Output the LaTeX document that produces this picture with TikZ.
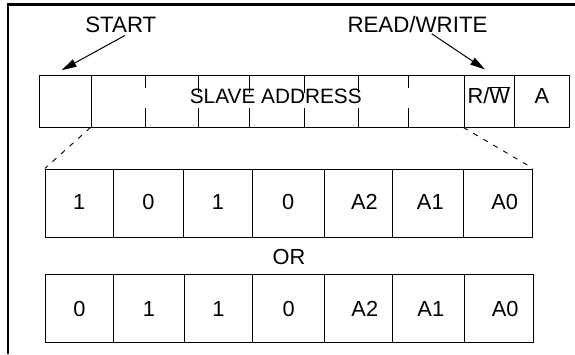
\documentclass[tikz,border=0pt]{standalone}
\usepackage{fontspec}
\setmainfont{Liberation Sans}
\usetikzlibrary{arrows.meta}
\begin{document}
\begin{tikzpicture}[x=1pt,y=-1pt,
  cellbox/.style={draw=black, line width=1pt, rectangle, inner sep=0pt, minimum height=68.3pt},
  topbox/.style={draw=black, line width=1pt, rectangle, inner sep=0pt, minimum height=52pt},
  txt/.style={inner sep=0pt, anchor=base, font=\fontsize{21.8}{26}\selectfont},
  lbl/.style={inner sep=0pt, anchor=base, font=\fontsize{22.3}{26}\selectfont},
  tick/.style={draw=black, line width=1pt},
  dashline/.style={draw=black, line width=0.9pt, dash pattern=on 5pt off 6.5pt},
  arr/.style={draw=black, line width=1pt, -{Triangle[length=15pt,width=8pt]}},
  frame/.style={draw=black, line width=2.6pt}]
\useasboundingbox (0,0) rectangle (575,354);
% frame
\draw[frame] (8,354) -- (8,4.7) -- (575,4.7);
% labels
\node[lbl] (startlbl) at (120.8,32.3) {START};
\node[lbl] (rwlbl) at (417.5,32.3) {READ/WRITE};
% top row
\node[topbox, minimum width=51.7pt] (startcell) at (65.15,101) {};
\node[topbox, minimum width=373pt] (addr) at (277.5,101) {};
\node[topbox, minimum width=50pt] (rw) at (489,101) {};
\node[topbox, minimum width=55.3pt] (ack) at (541.65,101) {};
\foreach \x/\e in {145/88.3,198.7/93,249.3/93,304/93,358/93,408.7/88.3}{
  \draw[tick] (\x,75) -- (\x,\e);
  \draw[tick] (\x,108.3) -- (\x,127);
}
\node[txt, font=\fontsize{20.8}{25}\selectfont] (addrtxt) at (275.8,103.3) {SLAVE ADDRESS};
\node[txt] (rwtxt) at (488.8,103.3) {R/$\overline{\mbox{W}}$};
\node[txt] (acktxt) at (542,103.3) {A};
% arrows
\draw[arr] ([shift={(4.2,2.7)}]startlbl.south) -- ([shift={(-3.5,-4.3)}]startcell.north);
\draw[arr] ([shift={(14.2,1)}]rwlbl.south) -- ([shift={(-4,-5)}]rw.north);
% lower rows
\foreach \l/\r/\tx/\t [count=\i] in {45.3/113.3/79.3/1, 113.3/183.7/148.5/0, 183.7/252.3/218/1, 252.3/324.3/288.3/0, 324.3/392/364.5/A2, 392/463.7/430.3/A1, 463.7/532.7/504.7/A0}{
  \node[cellbox, minimum width={\r-\l}] (ra\i) at ({(\l+\r)/2},203.15) {};
  \node[txt] (ta\i) at (\tx,209) {\t};
}
\foreach \l/\r/\tx/\t [count=\i] in {45.3/113.7/79.5/0, 113.7/184.3/149/1, 184.3/252.7/218.5/1, 252.7/324.7/288.7/0, 324.7/392.7/364.8/A2, 392.7/464.3/430.8/A1, 464.3/533.3/505.2/A0}{
  \node[cellbox, minimum width={\r-\l}, minimum height=68pt] (rb\i) at ({(\l+\r)/2},308.7) {};
  \node[txt] (tb\i) at (\tx,316.2) {\t};
}
\node[txt] (ortxt) at (289,264.3) {OR};
% dashed projection lines
\draw[dashline] (addr.south west) -- (ra1.north west);
\draw[dashline] (rw.south west) -- (ra7.north east);
\end{tikzpicture}
\end{document}
